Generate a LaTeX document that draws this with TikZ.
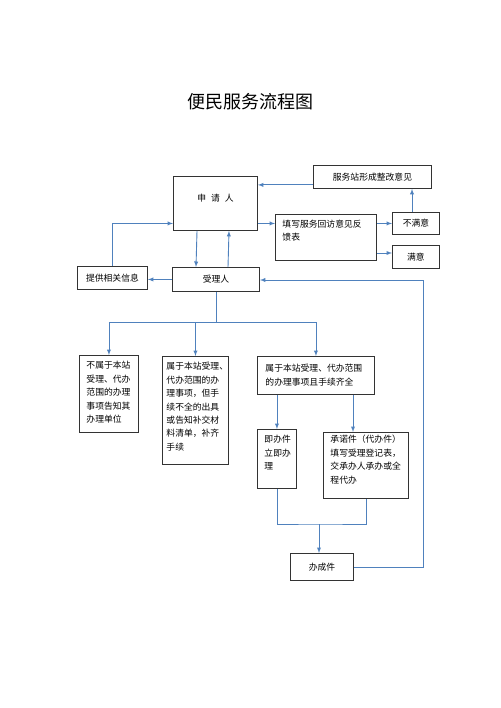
\documentclass[tikz,border=0pt]{standalone}
\usepackage{fontspec}
\setmainfont{Noto Sans CJK SC}
\usetikzlibrary{arrows.meta, positioning}
\definecolor{linkblue}{RGB}{79,129,189}
\tikzstyle{block} = [draw=black!80, line width=0.9pt, fill=white, rectangle, anchor=north west, inner sep=0pt]
\tikzstyle{link} = [draw=linkblue, line width=0.9pt]
% text set from the top left of a box: {gap above}{gap left}{width}{height}{text}
\newcommand{\cell}[5]{\parbox[c][#4pt][t]{#3pt}{\raggedright\leftskip=#2pt\vspace*{#1pt}#5}}

\begin{document}
\begin{tikzpicture}[x=1pt,y=-1pt,>=latex,font=\fontsize{8.8}{13.4}\selectfont]
    \useasboundingbox (0,0) rectangle (500,708);
    \node[font=\fontsize{18}{20}\selectfont] (title) at (250,102) {便民服务流程图};

    \node[block, minimum width=118pt, minimum height=23pt] (station) at (313,165) {服务站形成整改意见};
    \node[block] (appl) at (173,176) {\parbox[c][54pt][t]{84pt}{\centering\vspace*{18pt}申\hspace{5pt}请\hspace{5pt}人}};
    \node[block] (form) at (275,214) {\cell{6}{7}{101}{46}{\baselineskip=12.5pt 填写服务回访意见反\\馈表}};
    \node[block, minimum width=47pt, minimum height=22pt] (unsat) at (392,212) {不满意};
    \node[block, minimum width=47pt, minimum height=23pt] (sat) at (392,245) {满意};
    \node[block, minimum width=87pt, minimum height=24pt] (recv) at (172,267) {受理人};
    \node[block, minimum width=70pt, minimum height=23pt] (info) at (77,266) {提供相关信息};

    \node[block] (notours) at (79,355) {\cell{6}{7}{59}{77}{不属于本站\\受理、代办\\范围的办理\\事项告知其\\办理单位}};
    \node[block] (partial) at (162,356) {\cell{6}{4}{66}{108}{属于本站受理、\\代办范围的办\\理事项，但手\\续不全的出具\\或告知补交材\\料清单，补齐\\手续}};
    \node[block] (complete) at (257,356) {\cell{8}{8}{117}{38}{属于本站受理、代办范围\\的办理事项且手续齐全}};
    \node[block] (instant) at (257,429) {\cell{6}{7}{39}{59}{即办件\\立即办\\理}};
    \node[block] (promise) at (323,432) {\cell{3}{7}{85}{66}{承诺件（代办件）\\填写受理登记表，\\交承办人承办或全\\程代办}};
    \node[block, minimum width=63pt, minimum height=27pt] (done) at (290,553) {办成件};

    % top part
    \draw[link,->] ([xshift=24pt]appl.south west) -- ([xshift=24pt]recv.north west);
    \draw[link,->] ([xshift=56pt]recv.north west) -- ([xshift=56pt]appl.south west);
    \draw[link,->] (info.north) |- (appl.west |- unsat.west);
    \draw[link,->] (recv.west) -- (recv.west -| info.east);
    \draw[link,->] (appl.east |- unsat.west) -- (form.west |- unsat.west);
    \draw[link,->] (form.east |- unsat.west) -- (unsat.west);
    \coordinate (satin) at ([yshift=-8pt]sat.north west);
    \draw[link,->] (form.east |- satin) -- (satin);
    \coordinate (up) at ([xshift=20pt]unsat.north west);
    \draw[link,->] (up) -- (up |- station.south);
    \coordinate (fb) at ([yshift=4pt]station.south west);
    \draw[link,->] (fb) -- (fb -| appl.east);

    % split below the receiver
    \coordinate (split) at (215,322);
    \draw[link] (recv.south) -- (recv.south |- split);
    \draw[link] (notours.north |- split) -- (complete.north |- split);
    \foreach \n in {notours,partial,complete}
        \draw[link,->] (\n.north |- split) -- (\n.north);
    \draw[link,->] (instant.north |- complete.south) -- (instant.north);
    \coordinate (prom) at ([xshift=30pt]promise.north west);
    \draw[link,->] (prom |- complete.south) -- (prom);

    % merge and loop back
    \coordinate (merge) at (319,524);
    \draw[link] (instant.south) |- (merge) -| (promise.south);
    \draw[link,->] (merge) -- (merge |- done.north);
    \coordinate (back) at (423,280);
    \draw[link,->] (done.east) -| (back) -- (recv.east |- back);
\end{tikzpicture}
\end{document}
